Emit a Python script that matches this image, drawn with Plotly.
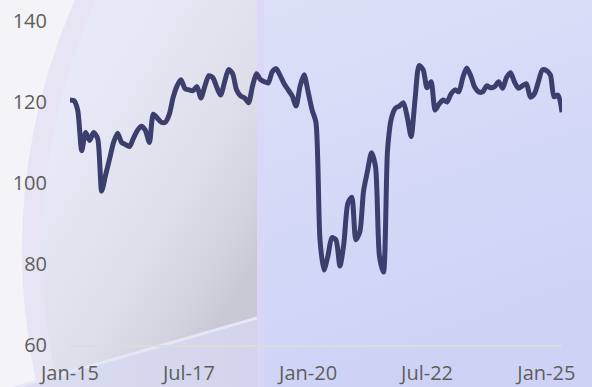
import base64
import pandas as pd
import plotly.graph_objects as go

# Monthly index values, Jan 2015 onwards
start_month = "2015-01-01"
index_values = [
    120.5, 120.3, 118.0, 108.0, 112.5, 110.5, 112.5, 111.0, 98.0, 102.0,
    106.0, 110.0, 112.3, 110.0, 109.5, 109.0, 111.0, 113.0, 114.0, 113.0,
    110.0, 117.0, 116.0, 115.0, 115.0, 117.0, 121.0, 124.0, 125.5, 123.3,
    123.0, 122.8, 123.8, 121.0, 124.0, 126.5, 126.0, 123.5, 121.7, 125.0,
    128.0, 127.0, 123.0, 121.5, 121.0, 119.8, 124.0, 127.0, 125.5, 125.0,
    124.7, 127.5, 128.2, 126.5, 124.5, 123.0, 121.5, 119.0, 124.0, 126.7,
    122.5, 118.0, 115.0, 86.0, 78.5, 82.0, 86.5, 86.0, 79.5, 85.0,
    95.0, 96.5, 86.0, 88.0, 98.0, 103.0, 107.5, 104.0, 82.0, 78.0,
    108.0, 116.0, 118.5, 119.0, 119.8, 116.0, 111.5, 121.0, 129.0, 128.0,
    123.5, 125.0, 118.0, 119.5, 120.5, 120.0, 122.0, 123.0, 122.5, 126.0,
    128.4, 126.5, 123.7, 122.5, 122.5, 124.0, 123.5, 123.8, 125.0, 123.4,
    126.0, 127.2, 125.0, 123.4, 124.0, 124.5, 121.2, 122.0, 125.0, 127.9,
    127.8, 126.7, 121.3, 121.7, 117.5,
]
months = pd.date_range(start_month, periods=len(index_values), freq="MS")

tick_dates = ["2015-01-01", "2017-07-01", "2020-01-01", "2022-07-01", "2025-01-01"]
tick_text = ["Jan-15", "Jul-17", "Jan-20", "Jul-22", "Jan-25"]
y_ticks = [60, 80, 100, 120, 140]

W, H = 592, 387
M = dict(l=70, r=30, t=21, b=42)

# Decorative backdrop drawn as an SVG behind the plot
bg_svg = f"""<svg xmlns="http://www.w3.org/2000/svg" width="{W}" height="{H}" viewBox="0 0 {W} {H}">
<defs>
  <linearGradient id="panel" gradientUnits="userSpaceOnUse" x1="60" y1="140" x2="257" y2="260">
    <stop offset="0" stop-color="#e8e9f6"/>
    <stop offset="0.55" stop-color="#dedfeb"/>
    <stop offset="0.85" stop-color="#d2d3de"/>
    <stop offset="1" stop-color="#c8c9d4"/>
  </linearGradient>
  <linearGradient id="right" x1="0" y1="0" x2="0.3" y2="1">
    <stop offset="0" stop-color="#dde0f8"/>
    <stop offset="1" stop-color="#ced3f6"/>
  </linearGradient>
  <linearGradient id="floor" x1="0" y1="0" x2="1" y2="0">
    <stop offset="0" stop-color="#dcdef3"/>
    <stop offset="1" stop-color="#d2d4ec"/>
  </linearGradient>
  <clipPath id="lc"><rect x="0" y="0" width="257" height="{H}"/></clipPath>
</defs>
<rect width="{W}" height="{H}" fill="#f4f3f7"/>
<g clip-path="url(#lc)">
  <circle cx="638" cy="250" r="616" fill="#e7e4f3"/>
  <circle cx="652" cy="250" r="610" fill="url(#panel)"/>
  <polygon points="0,392 257,318 257,{H} 0,{H}" fill="url(#floor)"/>
  <line x1="0" y1="392" x2="257" y2="318" stroke="#e6e7f6" stroke-width="3"/>
</g>
<rect x="257" y="0" width="{W-257}" height="{H}" fill="url(#right)"/>
<rect x="257" y="0" width="7" height="{H}" fill="#ddd6f7" opacity="0.8"/>
</svg>"""
bg_uri = "data:image/svg+xml;base64," + base64.b64encode(bg_svg.encode()).decode()

pw = W - M["l"] - M["r"]
ph = H - M["t"] - M["b"]

fig = go.Figure()
fig.add_trace(go.Scatter(
    x=months, y=index_values, mode="lines",
    line=dict(color="#3c3f6d", width=5, shape="spline", smoothing=0.7),
    hoverinfo="x+y",
))

fig.add_layout_image(dict(
    source=bg_uri, xref="paper", yref="paper",
    x=-M["l"] / pw, y=1 + M["t"] / ph,
    sizex=W / pw, sizey=H / ph,
    xanchor="left", yanchor="top", sizing="stretch", layer="below",
))

font = dict(family="Open Sans, Segoe UI, sans-serif", size=20, color="#605e5c")
fig.update_layout(
    width=W, height=H, margin=M,
    paper_bgcolor="rgba(0,0,0,0)", plot_bgcolor="rgba(0,0,0,0)",
    showlegend=False, font=font,
    xaxis=dict(
        range=[months[0], months[-1]], tickvals=tick_dates, ticktext=tick_text,
        showgrid=False, zeroline=False, showline=True, linecolor="#dcdcdc",
        linewidth=1.5, ticks="", ticklabelstandoff=9, automargin=False,
        tickfont=font,
    ),
    yaxis=dict(
        range=[60, 140], tickvals=y_ticks, showgrid=False, zeroline=False,
        showline=False, ticks="", ticklabelstandoff=22, automargin=False,
        tickfont=font,
    ),
)

fig.write_html("out.html")
